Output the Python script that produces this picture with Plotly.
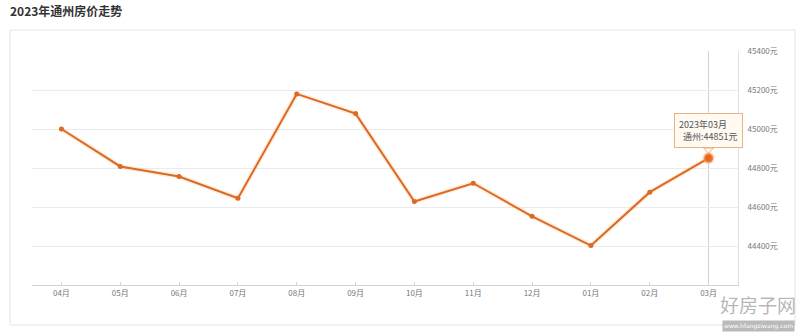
import plotly.graph_objects as go

months = ["04月", "05月", "06月", "07月", "08月", "09月", "10月", "11月", "12月", "01月", "02月", "03月"]
prices = [45000, 44808, 44756, 44645, 45180, 45079, 44628, 44722, 44552, 44402, 44676, 44851]
y_ticks = [44400, 44600, 44800, 45000, 45200, 45400]
y_tick_text = [f"{v}元" for v in y_ticks]
title_text = "2023年通州房价走势"
hover_label = "2023年03月"
series_name = "通州"

W, H = 804, 335
L, R, T, B = 32, 66, 51, 50
pw, ph = W - L - R, H - T - B

def px_x(p):
    return (p - L) / pw

def px_y(p):
    return (H - B - p) / ph

orange = "#db6a22"
fnt = "Noto Sans CJK SC, Noto Sans, sans-serif"

fig = go.Figure()
# soft halo under the line
fig.add_trace(go.Scatter(x=months, y=prices, mode="lines",
                         line=dict(color="rgba(245,160,90,0.18)", width=5),
                         hoverinfo="skip", showlegend=False))
fig.add_trace(go.Scatter(x=months, y=prices, mode="lines+markers",
                         line=dict(color=orange, width=2),
                         marker=dict(color=orange, size=5),
                         showlegend=False))
# highlighted last point
fig.add_trace(go.Scatter(x=[months[-1]], y=[prices[-1]], mode="markers",
                         marker=dict(color="#e8661c", size=9,
                                     line=dict(color="rgba(245,160,90,0.45)", width=3)),
                         showlegend=False))

shapes = []
# outer panel border
shapes.append(dict(type="rect", xref="paper", yref="paper",
                   x0=px_x(10), x1=px_x(795), y0=px_y(325), y1=px_y(30),
                   line=dict(color="#e4e4e4", width=1), layer="below"))
# crosshair at the highlighted point
shapes.append(dict(type="line", xref="x", yref="paper",
                   x0=months[-1], x1=months[-1], y0=0, y1=1,
                   line=dict(color="#d0d0d0", width=1), layer="below"))
# tooltip pointer triangle
shapes.append(dict(type="path", xref="x", yref="y",
                   xsizemode="pixel", ysizemode="pixel",
                   xanchor=months[-1], yanchor=prices[-1],
                   path="M -5 10 L 5 10 L 0 5 Z",
                   fillcolor="#fffaf2", line=dict(color="#eab27e", width=1)))

annotations = [
    dict(text=f"<b>{title_text}</b>", xref="paper", yref="paper",
         x=px_x(8), y=px_y(11), xanchor="left", yanchor="middle",
         showarrow=False, font=dict(size=12, color="#333", family=fnt)),
    dict(text=f"{hover_label}<br>  {series_name}:{prices[-1]}元",
         xref="x", yref="y", x=months[-1], y=prices[-1],
         xanchor="center", yanchor="bottom", yshift=10,
         showarrow=False, align="left",
         bgcolor="#fffaf2", bordercolor="#eab27e", borderwidth=1, borderpad=4,
         font=dict(size=9, color="#555", family=fnt)),
    dict(text="好房子网", xref="paper", yref="paper",
         x=px_x(758), y=px_y(304), xanchor="center", yanchor="middle",
         showarrow=False, font=dict(size=19, color="rgba(120,120,120,0.55)", family=fnt)),
    dict(text="www.hfangziwang.com", xref="paper", yref="paper",
         x=px_x(758), y=px_y(326), xanchor="center", yanchor="middle",
         showarrow=False, bgcolor="rgba(140,140,140,0.6)",
         font=dict(size=6, color="white", family="DejaVu Sans")),
]

fig.update_layout(
    width=W, height=H,
    margin=dict(l=L, r=R, t=T, b=B),
    paper_bgcolor="white", plot_bgcolor="white",
    shapes=shapes, annotations=annotations,
    font=dict(family=fnt),
    xaxis=dict(type="category", range=[-0.5, len(months) - 0.5],
               showgrid=False, showline=True, linecolor="#d4d4d4",
               ticks="inside", ticklen=3, tickcolor="#d4d4d4",
               tickfont=dict(size=8, color="#777"), fixedrange=True),
    yaxis=dict(side="right", range=[44200, 45400],
               tickvals=y_ticks, ticktext=y_tick_text,
               showgrid=True, gridcolor="#ebebeb", zeroline=False,
               showline=True, linecolor="#e0e0e0",
               ticks="", ticklabelstandoff=7,
               tickfont=dict(size=8, color="#777")),
)

fig.write_html("out.html")
